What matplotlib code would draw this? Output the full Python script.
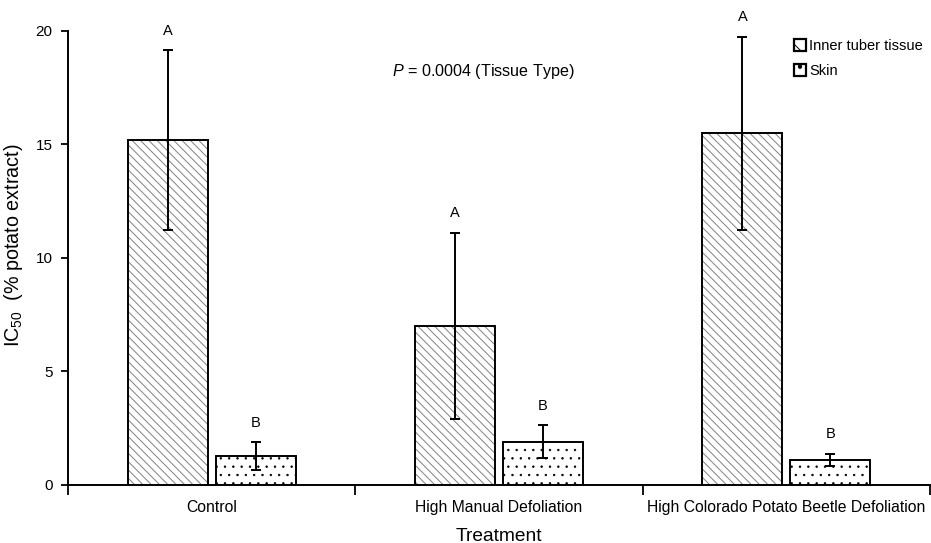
import numpy as np
import matplotlib
matplotlib.use("Agg")
import matplotlib.pyplot as plt
from matplotlib.patches import Patch

plt.rcParams['font.family'] = ['Liberation Sans', 'DejaVu Sans']
plt.rcParams['mathtext.fontset'] = 'custom'
plt.rcParams['mathtext.rm'] = 'Liberation Sans'
plt.rcParams['mathtext.it'] = 'Liberation Sans:italic'
plt.rcParams['hatch.linewidth'] = 0.7

# data
treatments = ['Control', 'High Manual Defoliation', 'High Colorado Potato Beetle Defoliation']
inner_mean = [15.2, 7.0, 15.5]
inner_err = [3.95, 4.1, 4.25]
skin_mean = [1.27, 1.9, 1.1]
skin_err = [0.6, 0.72, 0.28]
inner_letters = ['A', 'A', 'A']
skin_letters = ['B', 'B', 'B']
yticks = [0, 5, 10, 15, 20]

fig = plt.figure(figsize=(9.31, 5.43), dpi=100)
ax = fig.add_axes([0.073, 0.107, 0.926, 0.836])

x = np.arange(len(treatments))
w = 0.278
off = 0.153

# hatch fill first (hatch colour follows edge colour), outline drawn on top
ax.bar(x - off, inner_mean, w, color='white', edgecolor='#808080', hatch='\\\\\\\\', linewidth=0, zorder=2)
dots = ax.bar(x + off, skin_mean, w, color='white', edgecolor='black', hatch='..', linewidth=0, zorder=2)
for p in dots:
    if hasattr(p, 'set_hatch_linewidth'):
        p.set_hatch_linewidth(0.5)
ax.bar(x - off, inner_mean, w, fill=False, edgecolor='black', linewidth=1.4, zorder=3)
ax.bar(x + off, skin_mean, w, fill=False, edgecolor='black', linewidth=1.4, zorder=3)

ax.errorbar(x - off, inner_mean, yerr=inner_err, fmt='none', ecolor='black',
            elinewidth=1.4, capsize=3.8, capthick=1.4, zorder=4)
ax.errorbar(x + off, skin_mean, yerr=skin_err, fmt='none', ecolor='black',
            elinewidth=1.4, capsize=3.8, capthick=1.4, zorder=4)

for i in range(len(treatments)):
    ax.annotate(inner_letters[i], (x[i] - off, inner_mean[i] + inner_err[i]),
                xytext=(0, 9), textcoords='offset points', ha='center', va='bottom', fontsize=10.5)
    ax.annotate(skin_letters[i], (x[i] + off, skin_mean[i] + skin_err[i]),
                xytext=(0, 9), textcoords='offset points', ha='center', va='bottom', fontsize=10.5)

ax.text(0.628, 18.2, r'$\mathit{P}$ = 0.0004 (Tissue Type)', ha='left', va='center', fontsize=11.6)

ax.set_xlim(-0.5, 2.5)
ax.set_ylim(0, 20)
ax.set_yticks(yticks)
ax.tick_params(axis='y', direction='out', length=5, width=1.3, pad=6, labelsize=11)
ax.set_xticks([-0.5, 0.5, 1.5, 2.5])
ax.set_xticklabels([])
ax.tick_params(axis='x', which='major', direction='out', length=7, width=1.3)
ax.set_xticks(x, minor=True)
ax.set_xticklabels(treatments, minor=True)
ax.tick_params(axis='x', which='minor', length=0, pad=11, labelsize=11.3)

for s in ['top', 'right']:
    ax.spines[s].set_visible(False)
for s in ['left', 'bottom']:
    ax.spines[s].set_linewidth(1.4)

ax.set_ylabel(r'IC$_{50}$  (% potato extract)', fontsize=14.2)
ax.yaxis.set_label_coords(-0.05, 0.529)
ax.set_xlabel('Treatment', fontsize=13.8)
ax.xaxis.set_label_coords(0.5, -0.094)

handles = [Patch(facecolor='white', edgecolor='black', hatch='\\\\', linewidth=1.6),
           Patch(facecolor='white', edgecolor='black', hatch='.', linewidth=1.6)]
ax.legend(handles, ['Inner tuber tissue', 'Skin'], loc='upper left', bbox_to_anchor=(0.83, 1.005),
          frameon=False, fontsize=10.5, handlelength=0.85, handleheight=0.85,
          handletextpad=0.2, labelspacing=0.75, borderaxespad=0.3)

fig.savefig('out.png', dpi=100)
